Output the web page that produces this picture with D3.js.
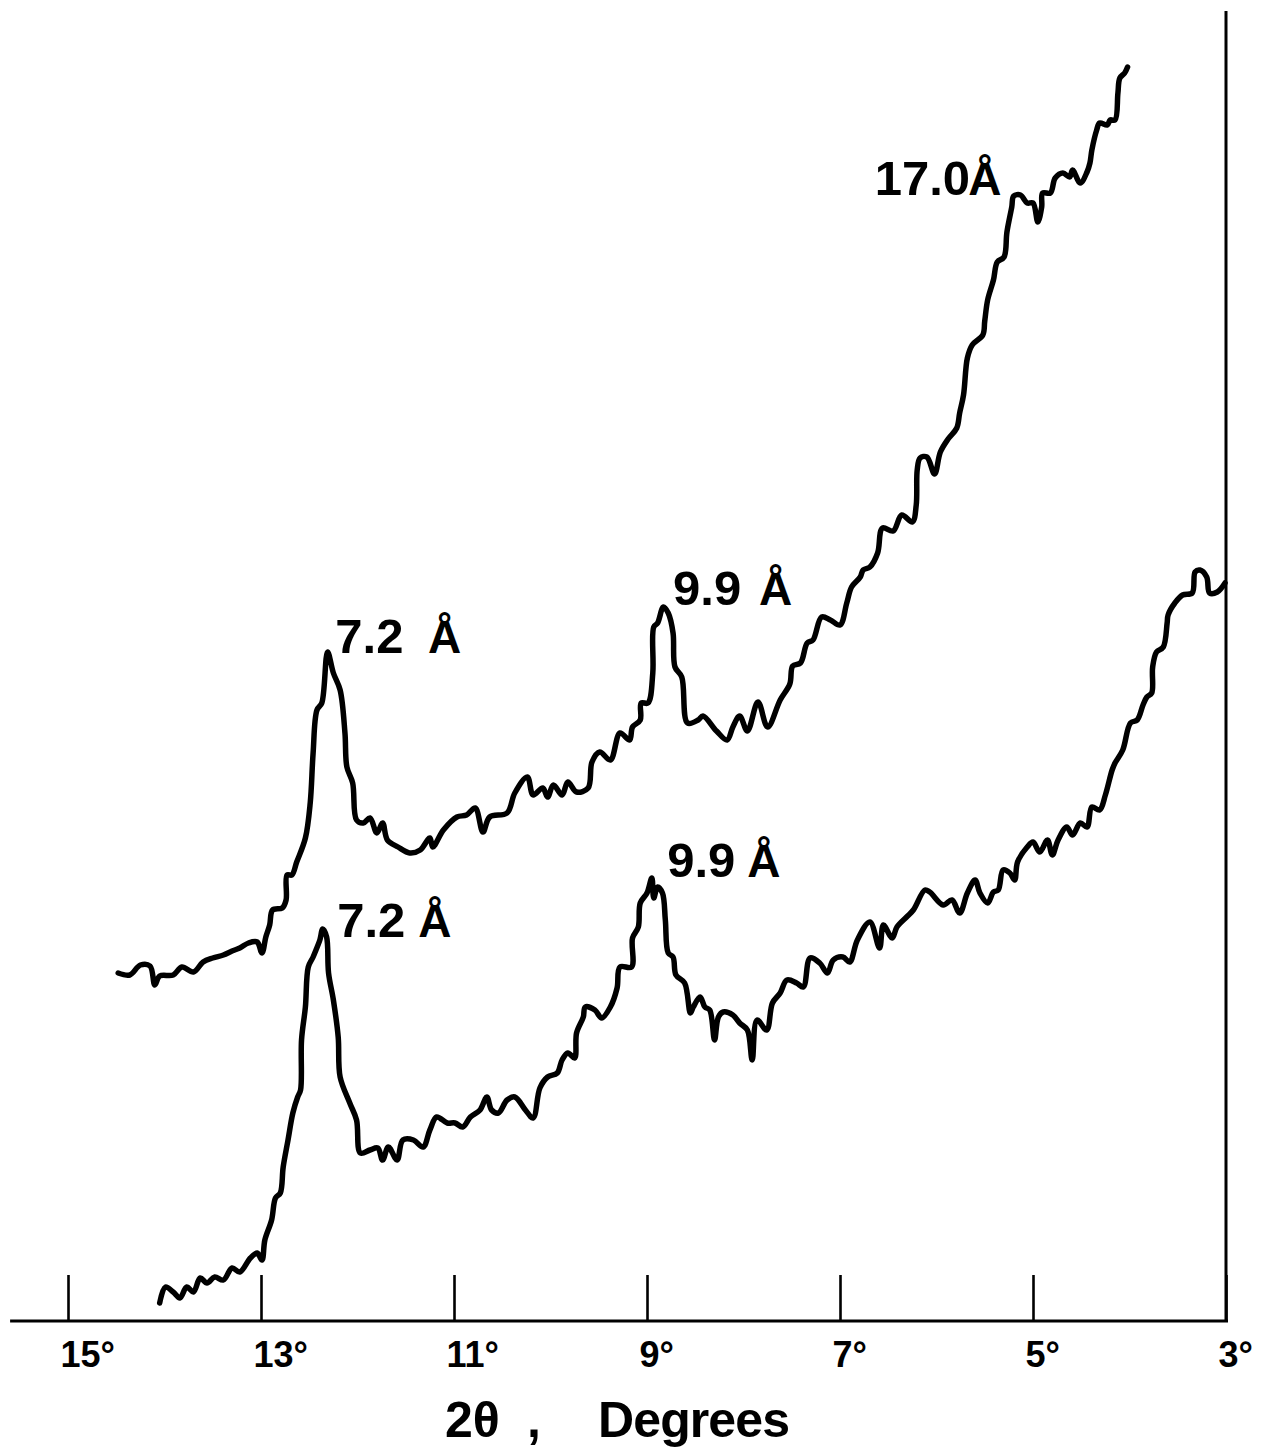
<!DOCTYPE html>
<html>
<head>
<meta charset="utf-8">
<script src="https://cdn.jsdelivr.net/npm/d3@7"></script>
<style>
  html, body { margin: 0; padding: 0; background: #fff; }
  svg { display: block; }
  text { font-family: "Liberation Sans", Arial, sans-serif; font-weight: bold; fill: #000; }
</style>
</head>
<body>
<svg id="chart" width="1263" height="1455"></svg>
<script>
// ---- Data: 2θ (degrees) vs relative intensity (arbitrary units) ----
const upperTheta = [14.48,14.36,14.25,14.15,14.10,14.05,13.91,13.82,13.70,13.60,13.50,13.39,13.30,13.22,13.13,13.04,12.99,12.95,12.91,12.88,12.78,12.74,12.73,12.68,12.63,12.54,12.49,12.46,12.42,12.37,12.31,12.25,12.18,12.13,12.11,12.05,12.01,11.94,11.87,11.80,11.74,11.69,11.58,11.46,11.35,11.25,11.22,11.11,10.97,10.87,10.78,10.70,10.63,10.45,10.37,10.24,10.18,10.08,10.03,9.97,9.88,9.82,9.73,9.61,9.57,9.49,9.38,9.28,9.18,9.15,9.07,9.06,8.99,8.94,8.93,8.89,8.83,8.78,8.73,8.71,8.64,8.58,8.47,8.42,8.28,8.17,8.11,8.04,7.96,7.85,7.75,7.62,7.52,7.49,7.41,7.34,7.28,7.19,7.10,7.00,6.93,6.88,6.79,6.76,6.69,6.61,6.56,6.45,6.36,6.25,6.21,6.20,6.17,6.10,6.02,5.96,5.88,5.79,5.76,5.72,5.68,5.63,5.52,5.50,5.47,5.41,5.37,5.30,5.27,5.22,5.20,5.13,5.06,5.00,4.95,4.91,4.90,4.82,4.77,4.69,4.62,4.59,4.51,4.44,4.41,4.39,4.34,4.31,4.23,4.20,4.15,4.12,4.10,4.05,4.02];
const upperIntensity = [34.8,34.6,35.6,35.5,33.6,34.5,34.6,35.4,34.9,35.9,36.3,36.6,37.0,37.3,37.8,37.9,36.8,38.4,39.6,41.1,41.3,42.1,44.6,44.6,45.9,48.3,51.8,56.8,61.1,61.8,66.9,64.8,63.1,58.8,55.4,53.8,50.1,49.8,50.3,48.8,49.8,48.1,47.4,46.8,47.1,48.3,47.4,49.1,50.4,50.6,51.3,48.9,50.4,50.8,52.8,54.4,52.6,53.3,52.4,53.6,52.6,53.9,52.9,53.3,55.9,56.9,56.1,58.8,58.1,59.4,60.1,61.8,61.8,64.8,69.4,69.8,71.4,70.8,68.8,65.4,64.4,59.8,60.1,60.5,59.0,58.1,59.4,60.5,59.0,61.9,59.4,62.1,63.7,65.5,65.8,67.8,68.1,70.4,70.1,69.6,71.8,73.4,74.4,75.1,75.4,76.8,79.3,79.0,80.6,79.9,81.6,85.1,86.3,86.4,84.7,86.9,88.2,89.3,90.8,92.6,96.3,97.6,98.6,100.0,102.1,104.1,105.9,106.4,108.9,111.4,112.5,112.6,111.8,111.8,109.9,111.4,112.8,112.8,114.3,114.8,114.4,115.1,113.8,114.9,115.8,117.1,119.1,119.8,119.6,120.1,120.1,122.8,124.3,124.8,125.4];

const lowerTheta = [14.05,13.99,13.91,13.84,13.77,13.70,13.63,13.56,13.48,13.39,13.30,13.22,13.11,13.04,12.99,12.96,12.89,12.85,12.80,12.77,12.72,12.67,12.62,12.59,12.58,12.54,12.51,12.46,12.43,12.39,12.36,12.32,12.30,12.25,12.20,12.18,12.08,12.01,11.97,11.87,11.79,11.74,11.68,11.59,11.53,11.42,11.32,11.25,11.18,11.07,10.99,10.91,10.83,10.73,10.66,10.61,10.54,10.45,10.37,10.26,10.18,10.11,10.03,9.93,9.88,9.82,9.75,9.73,9.66,9.64,9.54,9.47,9.38,9.31,9.28,9.16,9.15,9.09,9.07,9.00,8.95,8.93,8.89,8.84,8.81,8.78,8.73,8.70,8.61,8.55,8.52,8.45,8.40,8.35,8.30,8.26,8.21,8.11,8.04,7.96,7.91,7.86,7.76,7.70,7.62,7.55,7.45,7.38,7.31,7.21,7.13,7.07,6.97,6.90,6.82,6.69,6.59,6.55,6.46,6.41,6.31,6.24,6.12,6.07,5.93,5.84,5.76,5.68,5.60,5.55,5.47,5.41,5.36,5.31,5.24,5.19,5.16,5.06,5.00,4.93,4.85,4.80,4.74,4.65,4.59,4.51,4.44,4.39,4.31,4.25,4.18,4.15,4.07,3.99,3.92,3.86,3.82,3.77,3.76,3.72,3.65,3.61,3.60,3.53,3.45,3.35,3.32,3.27,3.20,3.17,3.09,3.01];
const lowerIntensity = [1.8,3.4,2.9,2.3,3.4,2.9,4.3,3.8,4.4,4.1,5.3,4.9,6.3,6.8,6.1,8.1,10.1,12.3,12.8,15.4,18.1,20.8,22.4,23.1,28.1,31.4,35.4,36.4,37.1,38.1,39.2,38.4,34.8,32.1,28.4,24.4,21.8,20.1,16.8,17.1,17.3,16.1,17.4,16.1,18.1,18.1,17.4,19.1,20.4,19.8,19.8,19.4,20.4,21.1,22.4,21.1,20.8,22.1,22.4,21.1,20.3,23.3,24.4,24.8,26.1,26.8,26.3,28.8,30.4,31.4,31.1,30.3,31.4,33.3,35.4,35.4,38.3,39.4,41.8,42.8,44.3,42.3,43.4,42.8,40.1,36.8,36.4,34.6,33.8,30.8,31.4,32.4,31.4,31.1,28.1,30.4,30.9,30.6,29.8,29.1,26.1,30.1,29.1,31.8,32.8,34.1,33.8,33.4,36.3,35.8,34.8,36.1,36.4,35.9,38.1,39.9,37.3,39.6,38.3,39.4,40.4,41.1,43.1,42.9,41.6,42.1,40.8,42.8,44.1,42.8,41.8,42.9,43.1,45.1,44.8,44.1,45.9,47.4,47.9,46.9,48.1,46.6,48.1,49.4,48.6,49.8,49.4,51.4,51.1,52.6,55.1,55.8,57.1,59.8,60.1,61.6,62.4,62.8,65.4,66.9,67.4,69.8,70.6,71.8,72.6,72.8,74.9,75.1,74.4,72.8,72.9,73.8];

const tickValues = [15, 13, 11, 9, 7, 5, 3];
const tickLabels = ["15°", "13°", "11°", "9°", "7°", "5°", "3°"];

// Peak annotations (anchored in data units: 2θ, intensity)
const peakLabels = ["7.2", "7.2", "9.9", "9.9", "17.0"];
const peakLabelTheta = [12.23, 12.21, 8.73, 8.79, 6.64];
const peakLabelIntensity = [66.8, 38.4, 71.6, 44.4, 112.6];
const angstromTheta = [11.27, 11.37, 7.84, 7.96, 5.67];

// ---- Scales ----
const x = d3.scaleLinear().domain([15, 3]).range([68, 1226]);
const y = d3.scaleLinear().domain([0, 131]).range([1321, 11]);

const svg = d3.select("#chart");
svg.append("rect").attr("width", 1263).attr("height", 1455).attr("fill", "#fff");

// ---- Axis ----
const axis = d3.axisBottom(x)
  .tickValues(tickValues)
  .tickFormat((d, i) => tickLabels[i])
  .tickSizeInner(-46)
  .tickSizeOuter(0)
  .tickPadding(20);

const gAxis = svg.append("g").attr("transform", `translate(0,${y(0)})`).call(axis);
gAxis.select(".domain").remove();
gAxis.selectAll(".tick line").attr("stroke", "#000").attr("stroke-width", 2.6);
gAxis.selectAll(".tick text")
  .attr("font-size", 36)
  .attr("font-family", "'Liberation Sans', Arial, sans-serif")
  .attr("font-weight", "bold")
  .attr("fill", "#000")
  .attr("text-anchor", "start")
  .attr("dx", -8);

// baseline of axis (extends left beyond 15°)
svg.append("line")
  .attr("x1", x(15.6)).attr("x2", x(3) + 2)
  .attr("y1", y(0)).attr("y2", y(0))
  .attr("stroke", "#000").attr("stroke-width", 3);

// right vertical frame line at 3°
svg.append("line")
  .attr("x1", x(3)).attr("x2", x(3))
  .attr("y1", y(131)).attr("y2", y(0))
  .attr("stroke", "#000").attr("stroke-width", 3);

// ---- Curves ----
const line = d3.line()
  .x(d => x(d[0]))
  .y(d => y(d[1]))
  .curve(d3.curveCatmullRom.alpha(0.5));

const upper = upperTheta.map((t, i) => [t, upperIntensity[i]]);
const lower = lowerTheta.map((t, i) => [t, lowerIntensity[i]]);

[upper, lower].forEach(series => {
  svg.append("path")
    .datum(series)
    .attr("d", line)
    .attr("fill", "none")
    .attr("stroke", "#000")
    .attr("stroke-width", 5.5)
    .attr("stroke-linejoin", "round")
    .attr("stroke-linecap", "round");
});

// ---- Peak labels ----
const gLab = svg.append("g");
peakLabels.forEach((lab, i) => {
  gLab.append("text")
    .attr("x", x(peakLabelTheta[i]))
    .attr("y", y(peakLabelIntensity[i]))
    .attr("font-size", 49)
    .text(lab);
  gLab.append("text")
    .attr("x", x(angstromTheta[i]))
    .attr("y", y(peakLabelIntensity[i]))
    .attr("font-size", 46)
    .text("Å");
});

// ---- Axis title ----
const title = svg.append("text")
  .attr("y", 1437)
  .attr("font-size", 50);
title.append("tspan").attr("x", 445).text("2θ");
title.append("tspan").attr("x", 527).text(",");
title.append("tspan").attr("x", 598).attr("textLength", 192).attr("lengthAdjust", "spacing").text("Degrees");
</script>
</body>
</html>
